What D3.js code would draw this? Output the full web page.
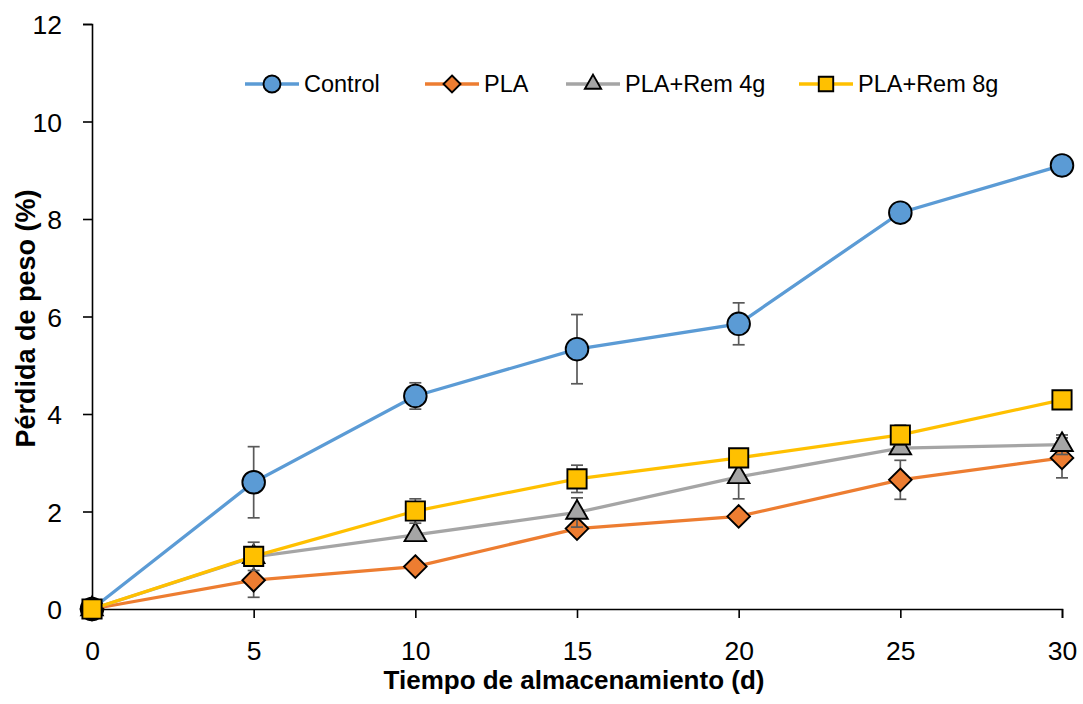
<!DOCTYPE html>
<html lang="es">
<head>
<meta charset="utf-8" />
<script src="https://d3js.org/d3.v7.min.js"></script>
<style type="text/css">
  body { margin: 0; background: #fff; }
  text { font-family: "Liberation Sans", sans-serif; fill: #000; }
</style>
</head>
<body>
<svg width="1083" height="704"></svg>
<script type="text/javascript">

var days = [0, 5, 10, 15, 20, 25, 30];
var control = [0, 2.6, 4.37, 5.33, 5.85, 8.13, 9.1];
var controlErr = [0, 0.73, 0.27, 0.71, 0.43, 0, 0];
var pla = [0, 0.59, 0.87, 1.65, 1.9, 2.65, 3.1];
var plaErr = [0, 0.35, 0, 0, 0, 0.4, 0.41];
var rem4 = [0, 1.07, 1.52, 1.98, 2.71, 3.3, 3.37];
var rem4Err = [0, 0, 0, 0.3, 0.45, 0, 0.2];
var rem8 = [0, 1.08, 2.01, 2.67, 3.1, 3.57, 4.29];
var rem8Err = [0, 0.29, 0.25, 0.28, 0, 0.2, 0];
var seriesNames = ['Control', 'PLA', 'PLA+Rem 4g', 'PLA+Rem 8g'];
var xTicks = [0, 5, 10, 15, 20, 25, 30];
var yTicks = [0, 2, 4, 6, 8, 10, 12];

var series = [
  { name: seriesNames[0], values: control, err: controlErr, color: '#5B9BD5', shape: 'circle' },
  { name: seriesNames[1], values: pla, err: plaErr, color: '#ED7D31', shape: 'diamond' },
  { name: seriesNames[2], values: rem4, err: rem4Err, color: '#A5A5A5', shape: 'triangle' },
  { name: seriesNames[3], values: rem8, err: rem8Err, color: '#FFC000', shape: 'square' }
];

var svg = d3.select('svg');

var x = d3.scaleLinear().domain([0, 30]).range([92, 1062]);
var y = d3.scaleLinear().domain([0, 12]).range([609, 24]);

// axes
var xAxis = svg.append('g')
    .attr('transform', 'translate(0,' + y(0) + ')')
    .call(d3.axisBottom(x).tickValues(xTicks).tickSize(9).tickPadding(23));
var yAxis = svg.append('g')
    .attr('transform', 'translate(' + x(0) + ',0)')
    .call(d3.axisLeft(y).tickValues(yTicks).tickSize(9).tickPadding(21));

[xAxis, yAxis].forEach(function(a) {
  a.select('.domain').attr('stroke', '#000').attr('stroke-width', 1.6);
  a.selectAll('.tick line').attr('stroke', '#000').attr('stroke-width', 1.6);
  a.selectAll('.tick text')
   .style('font-family', '"Liberation Sans", sans-serif')
   .style('font-size', '26.5px');
});
yAxis.selectAll('.tick text').attr('dy', '0.36em');

svg.append('text')
   .attr('x', x(15) - 3)
   .attr('y', 689)
   .attr('text-anchor', 'middle')
   .style('font-size', '26px')
   .style('font-weight', 'bold')
   .text('Tiempo de almacenamiento (d)');

svg.append('text')
   .attr('transform', 'translate(35,' + (y(6) + 2) + ') rotate(-90)')
   .attr('text-anchor', 'middle')
   .style('font-size', '27px')
   .style('font-weight', 'bold')
   .text('Pérdida de peso (%)');

// r: approximate marker radius in px
function marker(sel, shape, color, r) {
  var sym;
  if (shape === 'circle') sym = d3.symbol(d3.symbolCircle, Math.PI * r * r);
  if (shape === 'diamond') sym = d3.symbol(d3.symbolDiamond2, Math.pow(r / 0.62625, 2));
  if (shape === 'triangle') sym = d3.symbol(d3.symbolTriangle2, Math.pow(r * 1.1 / 0.6824, 2));
  if (shape === 'square') sym = d3.symbol(d3.symbolSquare2, Math.pow(r * 1.7 / 0.8862, 2));
  sel.append('path')
     .attr('d', sym)
     .attr('fill', color)
     .attr('stroke', '#000')
     .attr('stroke-width', 1.9);
}

var line = d3.line()
    .x(function(d, i) { return x(days[i]); })
    .y(function(d) { return y(d); });

series.forEach(function(s) {
  var g = svg.append('g');
  // error bars
  var eb = g.selectAll('g.err')
    .data(s.values.map(function(v, i) { return { x: days[i], v: v, e: s.err[i] }; })
                  .filter(function(d) { return d.e > 0; }))
    .enter().append('g').attr('class', 'err');
  eb.append('line')
    .attr('x1', function(d) { return x(d.x); })
    .attr('x2', function(d) { return x(d.x); })
    .attr('y1', function(d) { return y(d.v - d.e); })
    .attr('y2', function(d) { return y(d.v + d.e); });
  eb.append('line')
    .attr('x1', function(d) { return x(d.x) - 6; })
    .attr('x2', function(d) { return x(d.x) + 6; })
    .attr('y1', function(d) { return y(d.v - d.e); })
    .attr('y2', function(d) { return y(d.v - d.e); });
  eb.append('line')
    .attr('x1', function(d) { return x(d.x) - 6; })
    .attr('x2', function(d) { return x(d.x) + 6; })
    .attr('y1', function(d) { return y(d.v + d.e); })
    .attr('y2', function(d) { return y(d.v + d.e); });
  eb.selectAll('line').attr('stroke', '#595959').attr('stroke-width', 1.7);

  g.append('path')
   .datum(s.values)
   .attr('d', line)
   .attr('fill', 'none')
   .attr('stroke', s.color)
   .attr('stroke-width', 3.3);

  g.selectAll('g.pt')
   .data(s.values)
   .enter().append('g')
   .attr('class', 'pt')
   .attr('transform', function(d, i) { return 'translate(' + x(days[i]) + ',' + y(d) + ')'; })
   .each(function() { marker(d3.select(this), s.shape, s.color, 11.3); });
});

// legend
var legendX = [245, 425, 566, 799];
var leg = svg.append('g');
series.forEach(function(s, i) {
  var lg = leg.append('g').attr('transform', 'translate(' + legendX[i] + ',84)');
  lg.append('line').attr('x1', 0).attr('x2', 54).attr('y1', 0).attr('y2', 0)
    .attr('stroke', s.color).attr('stroke-width', 3.3);
  var m = lg.append('g').attr('transform', 'translate(27,0)');
  marker(m, s.shape, s.color, 8.5);
  lg.append('text').attr('x', 59).attr('y', 0).attr('dy', '0.36em')
    .style('font-size', '23.5px').text(s.name);
});

</script>
</body>
</html>
